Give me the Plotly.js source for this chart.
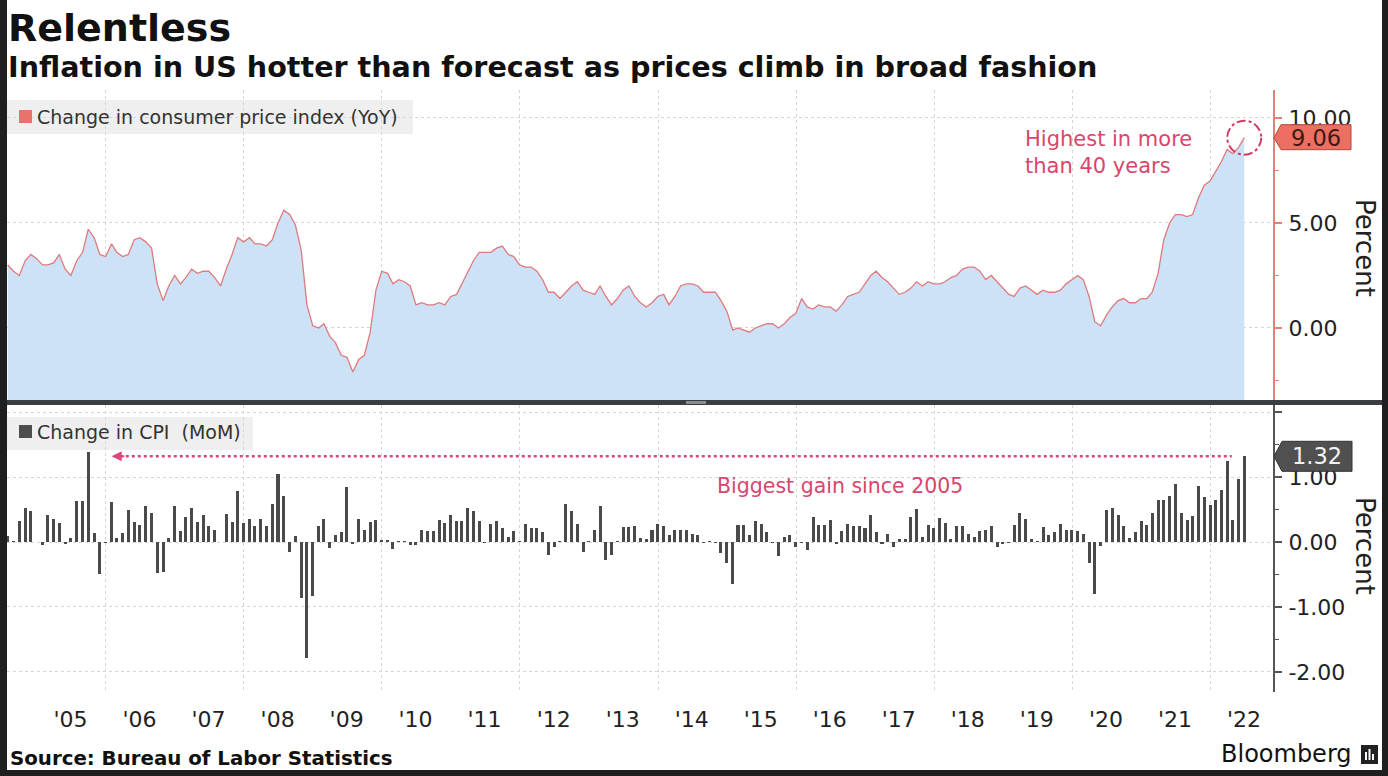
<!DOCTYPE html>
<html><head><meta charset="utf-8">
<script src="https://cdn.plot.ly/plotly-3.0.1.min.js"></script>
<style>
html,body{margin:0;padding:0;background:#1f1f1f;width:1388px;height:776px;overflow:hidden}
#chart{position:absolute;left:7px;top:0;width:1375px;height:770px;background:#fff}
</style></head><body><div id="chart"></div>
<script>
// ---- data ----
const startYear = 2004, startMonth = 7;   // first month shown: July 2004
const yoy = [
 3.0,2.7,2.5,3.2,3.5,3.3,
 3.0,3.0,3.1,3.5,2.8,2.5,3.2,3.6,4.7,4.3,3.5,3.4,
 4.0,3.6,3.4,3.5,4.2,4.3,4.1,3.8,2.1,1.3,2.0,2.5,
 2.1,2.4,2.8,2.6,2.7,2.7,2.4,2.0,2.8,3.5,4.3,4.1,
 4.3,4.0,4.0,3.9,4.2,5.0,5.6,5.4,4.9,3.7,1.1,0.1,
 0.0,0.2,-0.4,-0.7,-1.3,-1.4,-2.1,-1.5,-1.3,-0.2,1.8,2.7,
 2.6,2.1,2.3,2.2,2.0,1.1,1.2,1.1,1.1,1.2,1.1,1.5,
 1.6,2.1,2.7,3.2,3.6,3.6,3.6,3.8,3.9,3.5,3.4,3.0,
 2.9,2.9,2.7,2.3,1.7,1.7,1.4,1.7,2.0,2.2,1.8,1.7,
 1.6,2.0,1.5,1.1,1.4,1.8,2.0,1.5,1.2,1.0,1.2,1.5,
 1.6,1.1,1.5,2.0,2.1,2.1,2.0,1.7,1.7,1.7,1.3,0.8,
 -0.1,0.0,-0.1,-0.2,0.0,0.1,0.2,0.2,0.0,0.2,0.5,0.7,
 1.4,1.0,0.9,1.1,1.0,1.0,0.8,1.1,1.5,1.6,1.7,2.1,
 2.5,2.7,2.4,2.2,1.9,1.6,1.7,1.9,2.2,2.0,2.2,2.1,
 2.1,2.2,2.4,2.5,2.8,2.9,2.9,2.7,2.3,2.5,2.2,1.9,
 1.6,1.5,1.9,2.0,1.8,1.6,1.8,1.7,1.7,1.8,2.1,2.3,
 2.5,2.3,1.5,0.3,0.1,0.6,1.0,1.3,1.4,1.2,1.2,1.4,
 1.4,1.7,2.6,4.2,5.0,5.4,5.4,5.3,5.4,6.2,6.8,7.0,
 7.5,7.9,8.5,8.3,8.6,9.06
];
const mom = [
 0.10,0.02,0.33,0.53,0.48,0.00,-0.04,0.41,0.36,0.30,-0.03,0.06,
 0.63,0.63,1.38,0.14,-0.49,-0.01,0.61,0.06,0.14,0.50,0.31,0.26,
 0.55,0.45,-0.48,-0.46,0.06,0.55,0.17,0.39,0.52,0.31,0.41,0.24,
 0.18,0.00,0.43,0.31,0.78,0.30,0.35,0.24,0.36,0.24,0.58,1.05,
 0.71,-0.15,0.09,-0.86,-1.78,-0.83,0.25,0.36,-0.09,0.11,0.15,0.84,
 -0.03,0.35,0.19,0.31,0.34,0.03,0.03,-0.10,0.02,0.01,-0.05,-0.05,
 0.18,0.17,0.17,0.34,0.30,0.41,0.32,0.33,0.52,0.47,0.33,-0.01,
 0.28,0.33,0.22,0.08,0.17,0.01,0.28,0.22,0.21,0.16,-0.20,-0.07,
 0.01,0.58,0.48,0.28,-0.16,0.01,0.19,0.55,-0.27,-0.20,0.02,0.23,
 0.23,0.24,0.06,0.04,0.19,0.28,0.24,0.11,0.19,0.19,0.19,0.13,
 0.11,-0.01,0.01,-0.01,-0.17,-0.32,-0.65,0.26,0.26,0.11,0.33,0.28,
 0.16,-0.01,-0.22,0.07,0.11,-0.07,-0.02,-0.12,0.38,0.26,0.26,0.34,
 -0.03,0.17,0.28,0.24,0.24,0.22,0.42,0.16,-0.03,0.12,-0.07,0.05,
 0.04,0.39,0.51,0.07,0.26,0.21,0.37,0.29,0.05,0.24,0.24,0.12,
 0.07,0.17,0.19,0.25,-0.07,-0.03,-0.02,0.26,0.45,0.36,0.05,0.01,
 0.23,0.11,0.16,0.27,0.18,0.18,0.17,0.12,-0.33,-0.80,-0.06,0.50,
 0.52,0.41,0.24,0.06,0.15,0.32,0.26,0.45,0.64,0.64,0.71,0.89,
 0.45,0.34,0.40,0.87,0.69,0.57,0.64,0.80,1.24,0.34,0.97,1.32
];
const labelYears = [2005,2006,2007,2008,2009,2010,2011,2012,2013,2014,2015,2016,2017,2018,2019,2020,2021,2022];
const yearLabels = ["'05","'06","'07","'08","'09","'10","'11","'12","'13","'14","'15","'16","'17","'18","'19","'20","'21","'22"];
const topTicks = [0,5,10];
const botTicks = [-2,-1,0,1,2];
const botTickText = ['-2.00','-1.00','0.00','1.00',''];

// ---- dates (month end) ----
function monthEnd(i){
  const k = startMonth-1+i, y = startYear+Math.floor(k/12), m = k%12+1;
  const d = new Date(Date.UTC(y,m,0)).getUTCDate();
  return y+'-'+String(m).padStart(2,'0')+'-'+String(d).padStart(2,'0');
}
const dates = yoy.map((_,i)=>monthEnd(i));
const lastDate = dates[dates.length-1];
const lastYoy = yoy[yoy.length-1], lastMom = mom[mom.length-1];

// ---- geometry helpers (page pixels -> paper) ----
const W=1375,H=770,ML=0,MR=109,MT=90,MB=78, OX=7;
const PW=W-ML-MR, PH=H-MT-MB;
const px = x => (x-OX-ML)/PW;
const py = y => (H-MB-y)/PH;

const topRange=[-3.43,11.33], botRange=[-2.31,2.11];
const RED='#e57f78', PINK='#d8466c', GRID='#d6d6d6', TXT='#222';

const traces = [
 {x:dates, y:dates.map(()=>topRange[0]), type:'scatter', mode:'lines', line:{width:0,color:'rgba(0,0,0,0)'}, xaxis:'x', yaxis:'y', hoverinfo:'skip'},
 {x:dates, y:yoy, type:'scatter', mode:'lines', fill:'tonexty', fillcolor:'#cde1f7', line:{color:'#e07a7c',width:1.3}, xaxis:'x', yaxis:'y'},
 {x:dates, y:mom, type:'bar', marker:{color:'#4a4a4a'}, width:16*86400000, xaxis:'x', yaxis:'y2'}
];

const shapes = [
 // legend boxes
 {type:'rect',xref:'paper',yref:'paper',x0:px(7),x1:px(413),y0:py(134),y1:py(100),fillcolor:'#efefef',line:{width:0},layer:'below'},
 {type:'rect',xref:'paper',yref:'paper',x0:px(19),x1:px(32),y0:py(123),y1:py(110),fillcolor:'#e8736c',line:{width:0},layer:'above'},
 {type:'rect',xref:'paper',yref:'paper',x0:px(7),x1:px(253),y0:py(450),y1:py(417),fillcolor:'#efefef',line:{width:0},layer:'below'},
 {type:'rect',xref:'paper',yref:'paper',x0:px(19),x1:px(32),y0:py(438),y1:py(425),fillcolor:'#4d4d4d',line:{width:0},layer:'above'},
 // separator between panels
 {type:'rect',xref:'paper',yref:'paper',x0:px(7),x1:px(1382),y0:py(405),y1:py(400),fillcolor:'#3a3d41',line:{width:0},layer:'above'},
 {type:'rect',xref:'paper',yref:'paper',x0:px(686),x1:px(706),y0:py(404),y1:py(401),fillcolor:'#8a8d90',line:{width:0},layer:'above'},
 // dashed circle around last YoY point
 {type:'circle',xref:'x',yref:'y',xsizemode:'pixel',ysizemode:'pixel',xanchor:lastDate,yanchor:lastYoy,x0:-17,x1:17,y0:-17,y1:17,line:{color:'#d23c64',width:2,dash:'dashdot'},layer:'above'},
 // value flags
 {type:'path',xref:'paper',yref:'y',xsizemode:'pixel',ysizemode:'pixel',xanchor:1,yanchor:lastYoy,path:'M1,0 L8,-12 L78,-12 L78,13 L8,13 Z',fillcolor:'#ec6f62',line:{color:'#b4473e',width:1},layer:'above'},
 {type:'path',xref:'paper',yref:'y2',xsizemode:'pixel',ysizemode:'pixel',xanchor:1,yanchor:lastMom,path:'M1,0 L9,-15 L79,-15 L79,15 L9,15 Z',fillcolor:'#505050',line:{color:'#333',width:1},layer:'above'},
 // dotted reference line
 {type:'line',xref:'x',yref:'y2',x0:'2006-02-12',x1:'2022-04-25',y0:lastMom,y1:lastMom,line:{color:'#e0457a',width:2.5,dash:'dot'},layer:'above'},
 // Bloomberg icon
 {type:'rect',xref:'paper',yref:'paper',x0:px(1361),x1:px(1378),y0:py(764),y1:py(745),fillcolor:'#222',line:{width:0},layer:'above'},
 {type:'rect',xref:'paper',yref:'paper',x0:px(1365),x1:px(1367),y0:py(760),y1:py(752),fillcolor:'#fff',line:{width:0},layer:'above'},
 {type:'rect',xref:'paper',yref:'paper',x0:px(1368.5),x1:px(1370.5),y0:py(760),y1:py(749),fillcolor:'#fff',line:{width:0},layer:'above'},
 {type:'rect',xref:'paper',yref:'paper',x0:px(1372),x1:px(1374),y0:py(760),y1:py(754),fillcolor:'#fff',line:{width:0},layer:'above'}
];

const F='DejaVu Sans';
const annotations = [
 {xref:'paper',yref:'paper',x:px(6),y:py(28),xanchor:'left',yanchor:'middle',showarrow:false,text:'<b>Relentless</b>',font:{family:F,size:38,color:'#111'}},
 {xref:'paper',yref:'paper',x:px(6),y:py(67),xanchor:'left',yanchor:'middle',showarrow:false,text:'<b>Inflation in US hotter than forecast as prices climb in broad fashion</b>',font:{family:F,size:28.6,color:'#111'}},
 {xref:'paper',yref:'paper',x:px(35),y:py(117),xanchor:'left',yanchor:'middle',showarrow:false,text:'Change in consumer price index (YoY)',font:{family:F,size:19,color:'#333'}},
 {xref:'paper',yref:'paper',x:px(35),y:py(432),xanchor:'left',yanchor:'middle',showarrow:false,text:'Change in CPI\u00a0\u00a0(MoM)',font:{family:F,size:19,color:'#333'}},
 {xref:'paper',yref:'paper',x:px(1365),y:py(248),xanchor:'center',yanchor:'middle',showarrow:false,textangle:90,text:'Percent',font:{family:F,size:26,color:TXT}},
 {xref:'paper',yref:'paper',x:px(1365),y:py(546),xanchor:'center',yanchor:'middle',showarrow:false,textangle:90,text:'Percent',font:{family:F,size:26,color:TXT}},
 {xref:'paper',yref:'paper',x:px(1023),y:py(153),xanchor:'left',yanchor:'middle',align:'left',showarrow:false,text:'Highest in more<br>than 40 years',font:{family:F,size:21,color:PINK}},
 {xref:'paper',yref:'paper',x:px(840),y:py(486),xanchor:'center',yanchor:'middle',showarrow:false,text:'Biggest gain since 2005',font:{family:F,size:20.5,color:PINK}},
 {xref:'paper',yref:'y',x:1,xshift:43,y:lastYoy,xanchor:'center',yanchor:'middle',showarrow:false,text:lastYoy.toFixed(2),font:{family:F,size:22.5,color:'#3b1a16'}},
 {xref:'paper',yref:'y2',x:1,xshift:44,y:lastMom,xanchor:'center',yanchor:'middle',showarrow:false,text:lastMom.toFixed(2),font:{family:F,size:22.5,color:'#f2f2f2'}},
 {xref:'x',yref:'y2',x:'2006-02-01',y:lastMom,ax:14,ay:0,showarrow:true,arrowhead:2,arrowsize:1,arrowwidth:2,arrowcolor:'#e0457a',text:''},
 {xref:'paper',yref:'paper',x:px(8),y:py(758),xanchor:'left',yanchor:'middle',showarrow:false,text:'<b>Source: Bureau of Labor Statistics</b>',font:{family:F,size:19.8,color:'#111'}},
 {xref:'paper',yref:'paper',x:px(1354),y:py(754),xanchor:'right',yanchor:'middle',showarrow:false,text:'Bloomberg',font:{family:F,size:24,color:'#111'}}
];

const layout = {
 width:W, height:H, margin:{l:ML,r:MR,t:MT,b:MB,pad:0},
 paper_bgcolor:'#fff', plot_bgcolor:'rgba(0,0,0,0)', showlegend:false, bargap:0,
 font:{family:F,color:TXT},
 xaxis:{type:'date', range:['2004-07-27','2022-11-29'], anchor:'y2', tickmode:'array',
   tickvals:labelYears.map(y=>y+'-06-28'), ticktext:yearLabels, tickfont:{size:22,color:TXT},
   ticks:'', showgrid:false, zeroline:false, showline:false, ticklabelstandoff:12,
   minor:{tick0:'2006-01-01', dtick:'M24', showgrid:true, gridcolor:GRID, griddash:'dot', gridwidth:1, ticks:''}},
 yaxis:{domain:[py(400),1], range:topRange, side:'right', anchor:'x', tickmode:'array', tickvals:topTicks,
   tickformat:'.2f', ticks:'outside', ticklen:7, tickwidth:2, tickcolor:RED, showline:true, linecolor:RED, linewidth:2,
   showgrid:true, gridcolor:GRID, griddash:'dot', zeroline:false, tickfont:{size:22,color:TXT}, ticklabelstandoff:2,
   minor:{tickvals:[-2.5,2.5,7.5], ticks:'outside', ticklen:4, tickwidth:1.5, tickcolor:RED, showgrid:false}},
 yaxis2:{domain:[0,py(405)], range:botRange, side:'right', anchor:'x', tickmode:'array', tickvals:botTicks, ticktext:botTickText,
   ticks:'outside', ticklen:7, tickwidth:2, tickcolor:'#555', showline:true, linecolor:'#555', linewidth:2,
   showgrid:true, gridcolor:GRID, griddash:'dot', zeroline:false, tickfont:{size:22,color:TXT}, ticklabelstandoff:2,
   minor:{tickvals:[-1.5,-0.5,0.5,1.5], ticks:'outside', ticklen:4, tickwidth:1.5, tickcolor:'#555', showgrid:false}},
 shapes:shapes, annotations:annotations
};

Plotly.newPlot('chart', traces, layout, {displayModeBar:false, staticPlot:true});
</script></body></html>
